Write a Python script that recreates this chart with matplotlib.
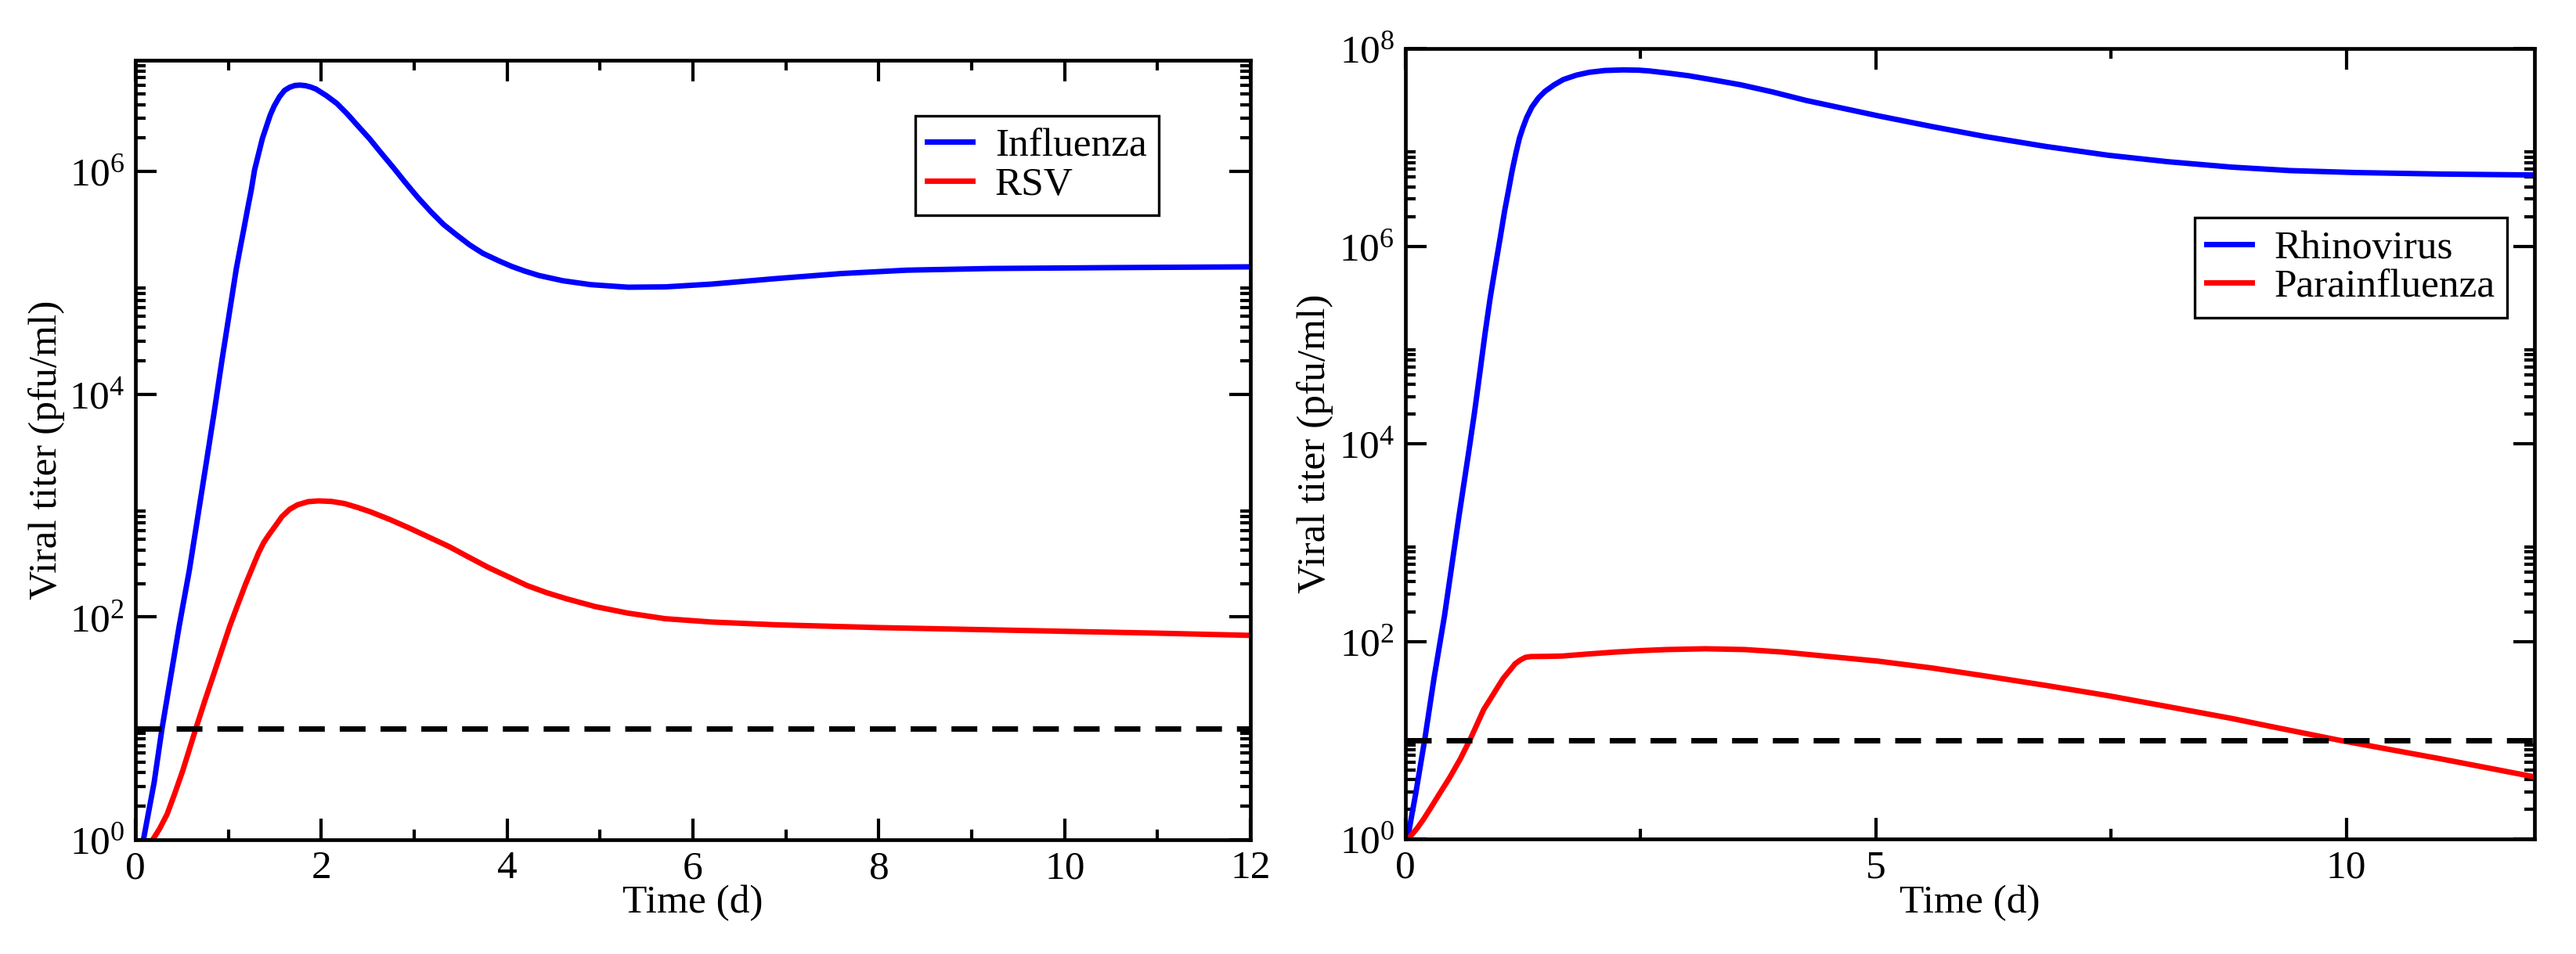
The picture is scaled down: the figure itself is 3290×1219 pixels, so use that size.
import numpy as np
import matplotlib
matplotlib.use("Agg")
import matplotlib.pyplot as plt
from matplotlib.ticker import LogLocator, MultipleLocator, FuncFormatter

# values, stored as log10(viral titer, pfu/ml) vs time (d)
T_FLU = [0.0, 0.085, 0.2, 0.284, 0.47, 0.579, 0.756, 0.846, 0.93, 1.084, 1.126,
         1.169, 1.211, 1.244, 1.281, 1.323, 1.365, 1.407, 1.449, 1.492, 1.548,
         1.604, 1.66, 1.716, 1.772, 1.829, 1.885, 1.941, 2.053, 2.166, 2.278,
         2.39, 2.517, 2.643, 2.784, 2.896, 3.036, 3.177, 3.317, 3.458, 3.598,
         3.739, 3.907, 4.048, 4.188, 4.343, 4.6, 4.9, 5.3, 5.7, 6.2, 6.9, 7.6,
         8.3, 9.2, 10.5, 12.0]
LOG_FLU = [-0.45, 0.0, 0.513, 0.993, 1.92, 2.42, 3.357, 3.837, 4.306, 5.125, 5.313,
           5.50, 5.688, 5.828, 6.015, 6.156, 6.297, 6.402, 6.507, 6.589, 6.671,
           6.730, 6.758, 6.774, 6.777, 6.772, 6.760, 6.742, 6.683, 6.613, 6.519,
           6.414, 6.297, 6.168, 6.027, 5.910, 5.770, 5.641, 5.524, 5.430, 5.341,
           5.266, 5.200, 5.149, 5.107, 5.067, 5.02, 4.985, 4.962, 4.965, 4.99, 5.04,
           5.085, 5.115, 5.13, 5.138, 5.145]

T_RSV = [0.0, 0.1, 0.185, 0.26, 0.34, 0.42, 0.508, 0.649, 0.747, 0.846, 0.93,
         1.014, 1.098, 1.183, 1.253, 1.323, 1.379, 1.435, 1.506, 1.576, 1.66,
         1.744, 1.857, 1.969, 2.11, 2.25, 2.39, 2.531, 2.742, 2.952, 3.163,
         3.374, 3.584, 3.795, 4.006, 4.216, 4.427, 4.638, 4.946, 5.3, 5.7, 6.2,
         6.9, 8.0, 9.5, 11.0, 12.0]
LOG_RSV = [-0.3, -0.12, 0.0, 0.1, 0.23, 0.41, 0.62, 0.998, 1.251, 1.497, 1.708,
           1.918, 2.106, 2.293, 2.434, 2.574, 2.668, 2.738, 2.820, 2.902, 2.968,
           3.008, 3.036, 3.043, 3.038, 3.019, 2.984, 2.944, 2.874, 2.797, 2.715,
           2.633, 2.539, 2.446, 2.364, 2.282, 2.218, 2.164, 2.094, 2.035, 1.985,
           1.955, 1.93, 1.905, 1.88, 1.855, 1.835]

T_RHINO = [0.0, 0.028, 0.111, 0.208, 0.305, 0.416, 0.569, 0.674, 0.735, 0.791,
           0.846, 0.902, 0.957, 1.013, 1.054, 1.096, 1.137, 1.179, 1.212, 1.248,
           1.29, 1.345, 1.415, 1.484, 1.581, 1.678, 1.817, 1.956, 2.122, 2.316,
           2.483, 2.594, 2.788, 3.01, 3.287, 3.564, 3.897, 4.258, 5.02, 5.6, 6.16,
           6.8, 7.47, 8.1, 8.78, 9.4, 10.1, 11.0, 12.0]
LOG_RHINO = [-0.1, 0.03, 0.465, 1.02, 1.63, 2.26, 3.263, 3.923, 4.319, 4.715,
             5.111, 5.481, 5.798, 6.115, 6.352, 6.564, 6.775, 6.960, 7.092, 7.197,
             7.303, 7.409, 7.501, 7.567, 7.633, 7.686, 7.731, 7.760, 7.778, 7.784,
             7.781, 7.773, 7.752, 7.725, 7.680, 7.633, 7.562, 7.475, 7.32, 7.21, 7.11,
             7.01, 6.92, 6.855, 6.80, 6.765, 6.745, 6.73, 6.72]

T_PARA = [0.0, 0.056, 0.125, 0.194, 0.264, 0.333, 0.402, 0.472, 0.527, 0.583,
          0.638, 0.694, 0.763, 0.832, 0.902, 0.971, 1.04, 1.11, 1.165, 1.221,
          1.276, 1.332, 1.498, 1.664, 1.942, 2.219, 2.497, 2.774, 3.19, 3.606,
          4.022, 4.313, 5.02, 5.6, 6.16, 6.8, 7.47, 8.1, 8.78, 9.19, 9.92, 10.98,
          12.0]
LOG_PARA = [-0.05, 0.029, 0.108, 0.201, 0.306, 0.412, 0.517, 0.623, 0.715, 0.808,
            0.913, 1.019, 1.164, 1.309, 1.415, 1.521, 1.626, 1.706, 1.772, 1.811,
            1.838, 1.846, 1.848, 1.851, 1.872, 1.891, 1.906, 1.917, 1.925, 1.917,
            1.891, 1.864, 1.80, 1.73, 1.65, 1.555, 1.45, 1.34, 1.22, 1.14, 1.0,
            0.815, 0.628]

DETECTION_LIMIT = 10.0

FS = 37
plt.rcParams["font.family"] = ["Liberation Serif", "DejaVu Serif"]
plt.rcParams["mathtext.fontset"] = "custom"
plt.rcParams["mathtext.rm"] = "Liberation Serif"
plt.rcParams["mathtext.it"] = "Liberation Serif:italic"


def pow10(v, pos):
    return r"$\mathregular{10^{%d}}$" % round(np.log10(v))


def style_axes(ax, ytop, xmajor, xminor):
    ax.set_yscale("log")
    ax.set_xlim(0, 12)
    ax.set_ylim(1, ytop)
    ax.xaxis.set_major_locator(MultipleLocator(xmajor))
    ax.xaxis.set_minor_locator(MultipleLocator(xminor))
    ax.yaxis.set_major_locator(LogLocator(base=100, numticks=20))
    ax.yaxis.set_minor_locator(LogLocator(base=100, subs=np.arange(2, 10), numticks=20))
    ax.yaxis.set_major_formatter(FuncFormatter(pow10))
    ax.yaxis.set_minor_formatter(FuncFormatter(lambda v, p: ""))
    ax.tick_params(which="both", direction="in", top=True, right=True,
                   width=3, labelsize=FS, pad=10, colors="black")
    ax.tick_params(which="major", length=19.5)
    ax.tick_params(which="minor", length=9.5)
    for sp in ax.spines.values():
        sp.set_linewidth(3.4)
    ax.set_xlabel("Time (d)", fontsize=FS)
    ax.set_ylabel("Viral titer (pfu/ml)", fontsize=FS)
    ax.xaxis.set_label_coords(0.5, -0.058)


def add_legend(ax, anchor):
    leg = ax.legend(loc="upper left", bbox_to_anchor=anchor, borderaxespad=0,
                    fontsize=FS, handlelength=1.12, handletextpad=0.56,
                    borderpad=0.3, labelspacing=0.05, fancybox=False,
                    framealpha=1, edgecolor="black")
    leg.get_frame().set_linewidth(2.4)


fig = plt.figure(figsize=(32.91, 12.19), dpi=100)
ax1 = fig.add_axes([0.0526, 0.1198, 0.4327, 0.817])
ax2 = fig.add_axes([0.5454, 0.1206, 0.4382, 0.8285])

ax1.plot(T_FLU, 10 ** np.array(LOG_FLU), color="#0000ff", lw=5, label="Influenza")
ax1.plot(T_RSV, 10 ** np.array(LOG_RSV), color="#ff0000", lw=5, label="RSV")
ax1.axhline(DETECTION_LIMIT, color="black", lw=5, ls=(0, (4.75, 2.75)), zorder=3)
style_axes(ax1, 1e7, 2, 1)
ax1.yaxis.set_label_coords(-0.063, 0.5)
add_legend(ax1, (0.6994, 0.9287))

ax2.plot(T_RHINO, 10 ** np.array(LOG_RHINO), color="#0000ff", lw=5, label="Rhinovirus")
ax2.plot(T_PARA, 10 ** np.array(LOG_PARA), color="#ff0000", lw=5, label="Parainfluenza")
ax2.axhline(DETECTION_LIMIT, color="black", lw=5, ls=(0, (4.75, 2.75)), zorder=3)
style_axes(ax2, 1e8, 5, 2.5)
ax2.yaxis.set_label_coords(-0.064, 0.5)
add_legend(ax2, (0.699, 0.786))

fig.savefig("out.png", dpi=100)
